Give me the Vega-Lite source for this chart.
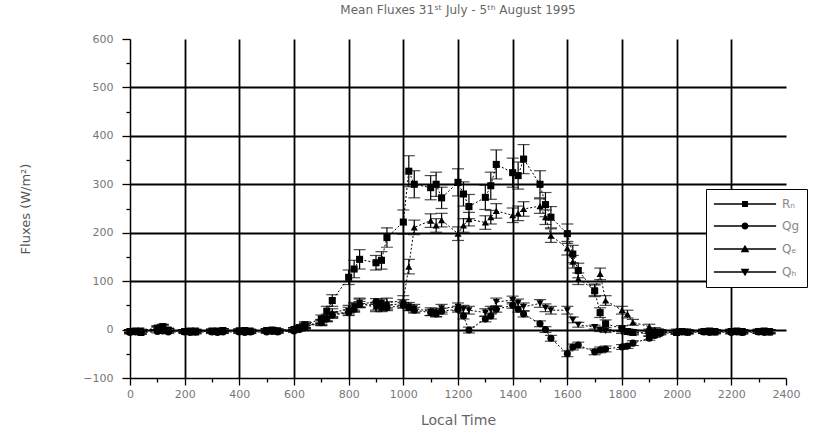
{
  "$schema": "https://vega.github.io/schema/vega-lite/v6.json",
  "autosize": "none",
  "padding": {"left": 130, "top": 39, "right": 27, "bottom": 58},
  "width": 656,
  "height": 339,
  "background": "white",
  "title": {
    "text": "Mean Fluxes 31ˢᵗ July - 5ᵗʰ August 1995",
    "font": "DejaVu Sans",
    "fontSize": 12,
    "fontWeight": "normal",
    "color": "#666",
    "anchor": "middle",
    "offset": 16
  },
  "config": {"view": {"stroke": null}},
  "data": {
    "values": [
      {"t":0,"s":"Rn","v":-4,"e":4},{"t":20,"s":"Rn","v":-3,"e":4},{"t":40,"s":"Rn","v":-6,"e":4},
      {"t":100,"s":"Rn","v":3,"e":5},{"t":120,"s":"Rn","v":6,"e":5},{"t":140,"s":"Rn","v":-2,"e":4},
      {"t":200,"s":"Rn","v":-4,"e":4},{"t":220,"s":"Rn","v":-3,"e":4},{"t":240,"s":"Rn","v":-5,"e":4},
      {"t":300,"s":"Rn","v":-3,"e":4},{"t":320,"s":"Rn","v":-4,"e":4},{"t":340,"s":"Rn","v":-2,"e":4},
      {"t":400,"s":"Rn","v":-3,"e":4},{"t":420,"s":"Rn","v":-2,"e":4},{"t":440,"s":"Rn","v":-4,"e":4},
      {"t":500,"s":"Rn","v":-2,"e":4},{"t":520,"s":"Rn","v":-1,"e":4},{"t":540,"s":"Rn","v":-3,"e":4},
      {"t":600,"s":"Rn","v":0,"e":4},{"t":620,"s":"Rn","v":4,"e":5},{"t":640,"s":"Rn","v":10,"e":6},
      {"t":700,"s":"Rn","v":22,"e":8},{"t":720,"s":"Rn","v":38,"e":10},{"t":740,"s":"Rn","v":60,"e":12},
      {"t":800,"s":"Rn","v":108,"e":15},{"t":820,"s":"Rn","v":125,"e":18},{"t":840,"s":"Rn","v":145,"e":20},
      {"t":900,"s":"Rn","v":138,"e":15},{"t":920,"s":"Rn","v":143,"e":18},{"t":940,"s":"Rn","v":190,"e":20},
      {"t":1000,"s":"Rn","v":222,"e":25},{"t":1020,"s":"Rn","v":327,"e":32},{"t":1040,"s":"Rn","v":300,"e":28},
      {"t":1100,"s":"Rn","v":293,"e":25},{"t":1120,"s":"Rn","v":300,"e":25},{"t":1140,"s":"Rn","v":272,"e":22},
      {"t":1200,"s":"Rn","v":304,"e":28},{"t":1220,"s":"Rn","v":280,"e":25},{"t":1240,"s":"Rn","v":254,"e":25},
      {"t":1300,"s":"Rn","v":273,"e":25},{"t":1320,"s":"Rn","v":297,"e":28},{"t":1340,"s":"Rn","v":341,"e":30},
      {"t":1400,"s":"Rn","v":324,"e":30},{"t":1420,"s":"Rn","v":318,"e":28},{"t":1440,"s":"Rn","v":352,"e":30},
      {"t":1500,"s":"Rn","v":300,"e":28},{"t":1520,"s":"Rn","v":258,"e":25},{"t":1540,"s":"Rn","v":232,"e":22},
      {"t":1600,"s":"Rn","v":198,"e":20},{"t":1620,"s":"Rn","v":156,"e":18},{"t":1640,"s":"Rn","v":122,"e":15},
      {"t":1700,"s":"Rn","v":80,"e":12},{"t":1720,"s":"Rn","v":35,"e":10},{"t":1740,"s":"Rn","v":12,"e":8},
      {"t":1800,"s":"Rn","v":2,"e":6},{"t":1820,"s":"Rn","v":-4,"e":5},{"t":1840,"s":"Rn","v":-6,"e":5},
      {"t":1900,"s":"Rn","v":-8,"e":5},{"t":1920,"s":"Rn","v":-6,"e":5},{"t":1940,"s":"Rn","v":-5,"e":4},
      {"t":2000,"s":"Rn","v":-6,"e":4},{"t":2020,"s":"Rn","v":-4,"e":4},{"t":2040,"s":"Rn","v":-5,"e":4},
      {"t":2100,"s":"Rn","v":-4,"e":4},{"t":2120,"s":"Rn","v":-3,"e":4},{"t":2140,"s":"Rn","v":-5,"e":4},
      {"t":2200,"s":"Rn","v":-4,"e":4},{"t":2220,"s":"Rn","v":-3,"e":4},{"t":2240,"s":"Rn","v":-5,"e":4},
      {"t":2300,"s":"Rn","v":-4,"e":4},{"t":2320,"s":"Rn","v":-3,"e":4},{"t":2340,"s":"Rn","v":-5,"e":4},

      {"t":0,"s":"Qg","v":-6,"e":3},{"t":20,"s":"Qg","v":-5,"e":3},{"t":40,"s":"Qg","v":-6,"e":3},
      {"t":100,"s":"Qg","v":-4,"e":3},{"t":120,"s":"Qg","v":-3,"e":3},{"t":140,"s":"Qg","v":-5,"e":3},
      {"t":200,"s":"Qg","v":-5,"e":3},{"t":220,"s":"Qg","v":-6,"e":3},{"t":240,"s":"Qg","v":-5,"e":3},
      {"t":300,"s":"Qg","v":-5,"e":3},{"t":320,"s":"Qg","v":-6,"e":3},{"t":340,"s":"Qg","v":-5,"e":3},
      {"t":400,"s":"Qg","v":-5,"e":3},{"t":420,"s":"Qg","v":-6,"e":3},{"t":440,"s":"Qg","v":-5,"e":3},
      {"t":500,"s":"Qg","v":-5,"e":3},{"t":520,"s":"Qg","v":-4,"e":3},{"t":540,"s":"Qg","v":-5,"e":3},
      {"t":600,"s":"Qg","v":-3,"e":3},{"t":620,"s":"Qg","v":0,"e":3},{"t":640,"s":"Qg","v":5,"e":4},
      {"t":700,"s":"Qg","v":14,"e":4},{"t":720,"s":"Qg","v":22,"e":5},{"t":740,"s":"Qg","v":30,"e":5},
      {"t":800,"s":"Qg","v":35,"e":6},{"t":820,"s":"Qg","v":42,"e":6},{"t":840,"s":"Qg","v":52,"e":6},
      {"t":900,"s":"Qg","v":58,"e":6},{"t":920,"s":"Qg","v":50,"e":6},{"t":940,"s":"Qg","v":45,"e":6},
      {"t":1000,"s":"Qg","v":50,"e":6},{"t":1020,"s":"Qg","v":45,"e":6},{"t":1040,"s":"Qg","v":40,"e":6},
      {"t":1100,"s":"Qg","v":35,"e":6},{"t":1120,"s":"Qg","v":32,"e":6},{"t":1140,"s":"Qg","v":38,"e":6},
      {"t":1200,"s":"Qg","v":42,"e":6},{"t":1220,"s":"Qg","v":28,"e":6},{"t":1240,"s":"Qg","v":-1,"e":6},
      {"t":1300,"s":"Qg","v":22,"e":6},{"t":1320,"s":"Qg","v":28,"e":6},{"t":1340,"s":"Qg","v":42,"e":6},
      {"t":1400,"s":"Qg","v":50,"e":6},{"t":1420,"s":"Qg","v":42,"e":6},{"t":1440,"s":"Qg","v":32,"e":6},
      {"t":1500,"s":"Qg","v":12,"e":6},{"t":1520,"s":"Qg","v":0,"e":6},{"t":1540,"s":"Qg","v":-18,"e":6},
      {"t":1600,"s":"Qg","v":-50,"e":6},{"t":1620,"s":"Qg","v":-36,"e":6},{"t":1640,"s":"Qg","v":-32,"e":6},
      {"t":1700,"s":"Qg","v":-46,"e":6},{"t":1720,"s":"Qg","v":-42,"e":6},{"t":1740,"s":"Qg","v":-40,"e":6},
      {"t":1800,"s":"Qg","v":-36,"e":5},{"t":1820,"s":"Qg","v":-34,"e":5},{"t":1840,"s":"Qg","v":-28,"e":5},
      {"t":1900,"s":"Qg","v":-18,"e":4},{"t":1920,"s":"Qg","v":-12,"e":4},{"t":1940,"s":"Qg","v":-8,"e":3},
      {"t":2000,"s":"Qg","v":-6,"e":3},{"t":2020,"s":"Qg","v":-5,"e":3},{"t":2040,"s":"Qg","v":-6,"e":3},
      {"t":2100,"s":"Qg","v":-5,"e":3},{"t":2120,"s":"Qg","v":-6,"e":3},{"t":2140,"s":"Qg","v":-5,"e":3},
      {"t":2200,"s":"Qg","v":-6,"e":3},{"t":2220,"s":"Qg","v":-5,"e":3},{"t":2240,"s":"Qg","v":-6,"e":3},
      {"t":2300,"s":"Qg","v":-5,"e":3},{"t":2320,"s":"Qg","v":-6,"e":3},{"t":2340,"s":"Qg","v":-5,"e":3},

      {"t":0,"s":"Qe","v":-3,"e":3},{"t":20,"s":"Qe","v":-2,"e":3},{"t":40,"s":"Qe","v":-4,"e":3},
      {"t":100,"s":"Qe","v":2,"e":3},{"t":120,"s":"Qe","v":5,"e":4},{"t":140,"s":"Qe","v":-1,"e":3},
      {"t":200,"s":"Qe","v":-3,"e":3},{"t":220,"s":"Qe","v":-2,"e":3},{"t":240,"s":"Qe","v":-3,"e":3},
      {"t":300,"s":"Qe","v":-2,"e":3},{"t":320,"s":"Qe","v":-3,"e":3},{"t":340,"s":"Qe","v":-1,"e":3},
      {"t":400,"s":"Qe","v":-2,"e":3},{"t":420,"s":"Qe","v":-1,"e":3},{"t":440,"s":"Qe","v":-3,"e":3},
      {"t":500,"s":"Qe","v":-1,"e":3},{"t":520,"s":"Qe","v":0,"e":3},{"t":540,"s":"Qe","v":-2,"e":3},
      {"t":600,"s":"Qe","v":1,"e":3},{"t":620,"s":"Qe","v":3,"e":4},{"t":640,"s":"Qe","v":8,"e":5},
      {"t":700,"s":"Qe","v":15,"e":6},{"t":720,"s":"Qe","v":25,"e":7},{"t":740,"s":"Qe","v":35,"e":8},
      {"t":800,"s":"Qe","v":42,"e":8},{"t":820,"s":"Qe","v":45,"e":8},{"t":840,"s":"Qe","v":55,"e":10},
      {"t":900,"s":"Qe","v":48,"e":8},{"t":920,"s":"Qe","v":45,"e":8},{"t":940,"s":"Qe","v":55,"e":10},
      {"t":1000,"s":"Qe","v":60,"e":10},{"t":1020,"s":"Qe","v":130,"e":15},{"t":1040,"s":"Qe","v":211,"e":15},
      {"t":1100,"s":"Qe","v":225,"e":14},{"t":1120,"s":"Qe","v":215,"e":14},{"t":1140,"s":"Qe","v":226,"e":14},
      {"t":1200,"s":"Qe","v":198,"e":14},{"t":1220,"s":"Qe","v":215,"e":14},{"t":1240,"s":"Qe","v":228,"e":14},
      {"t":1300,"s":"Qe","v":221,"e":14},{"t":1320,"s":"Qe","v":232,"e":14},{"t":1340,"s":"Qe","v":245,"e":15},
      {"t":1400,"s":"Qe","v":236,"e":15},{"t":1420,"s":"Qe","v":240,"e":15},{"t":1440,"s":"Qe","v":249,"e":15},
      {"t":1500,"s":"Qe","v":255,"e":15},{"t":1520,"s":"Qe","v":232,"e":15},{"t":1540,"s":"Qe","v":194,"e":14},
      {"t":1600,"s":"Qe","v":168,"e":14},{"t":1620,"s":"Qe","v":140,"e":13},{"t":1640,"s":"Qe","v":105,"e":12},
      {"t":1700,"s":"Qe","v":82,"e":12},{"t":1720,"s":"Qe","v":115,"e":12},{"t":1740,"s":"Qe","v":60,"e":10},
      {"t":1800,"s":"Qe","v":40,"e":8},{"t":1820,"s":"Qe","v":32,"e":8},{"t":1840,"s":"Qe","v":15,"e":6},
      {"t":1900,"s":"Qe","v":6,"e":5},{"t":1920,"s":"Qe","v":0,"e":4},{"t":1940,"s":"Qe","v":-3,"e":3},
      {"t":2000,"s":"Qe","v":-2,"e":3},{"t":2020,"s":"Qe","v":-4,"e":3},{"t":2040,"s":"Qe","v":-3,"e":3},
      {"t":2100,"s":"Qe","v":-2,"e":3},{"t":2120,"s":"Qe","v":-4,"e":3},{"t":2140,"s":"Qe","v":-3,"e":3},
      {"t":2200,"s":"Qe","v":-2,"e":3},{"t":2220,"s":"Qe","v":-3,"e":3},{"t":2240,"s":"Qe","v":-4,"e":3},
      {"t":2300,"s":"Qe","v":-2,"e":3},{"t":2320,"s":"Qe","v":-3,"e":3},{"t":2340,"s":"Qe","v":-4,"e":3},

      {"t":0,"s":"Qh","v":-3,"e":3},{"t":20,"s":"Qh","v":-4,"e":3},{"t":40,"s":"Qh","v":-2,"e":3},
      {"t":100,"s":"Qh","v":3,"e":3},{"t":120,"s":"Qh","v":6,"e":4},{"t":140,"s":"Qh","v":0,"e":3},
      {"t":200,"s":"Qh","v":-3,"e":3},{"t":220,"s":"Qh","v":-4,"e":3},{"t":240,"s":"Qh","v":-2,"e":3},
      {"t":300,"s":"Qh","v":-3,"e":3},{"t":320,"s":"Qh","v":-2,"e":3},{"t":340,"s":"Qh","v":-4,"e":3},
      {"t":400,"s":"Qh","v":-2,"e":3},{"t":420,"s":"Qh","v":-3,"e":3},{"t":440,"s":"Qh","v":-2,"e":3},
      {"t":500,"s":"Qh","v":-3,"e":3},{"t":520,"s":"Qh","v":-1,"e":3},{"t":540,"s":"Qh","v":-2,"e":3},
      {"t":600,"s":"Qh","v":0,"e":3},{"t":620,"s":"Qh","v":3,"e":4},{"t":640,"s":"Qh","v":8,"e":5},
      {"t":700,"s":"Qh","v":14,"e":6},{"t":720,"s":"Qh","v":22,"e":6},{"t":740,"s":"Qh","v":30,"e":7},
      {"t":800,"s":"Qh","v":38,"e":8},{"t":820,"s":"Qh","v":48,"e":8},{"t":840,"s":"Qh","v":55,"e":8},
      {"t":900,"s":"Qh","v":45,"e":8},{"t":920,"s":"Qh","v":55,"e":8},{"t":940,"s":"Qh","v":50,"e":8},
      {"t":1000,"s":"Qh","v":54,"e":8},{"t":1020,"s":"Qh","v":48,"e":8},{"t":1040,"s":"Qh","v":44,"e":8},
      {"t":1100,"s":"Qh","v":37,"e":8},{"t":1120,"s":"Qh","v":35,"e":8},{"t":1140,"s":"Qh","v":44,"e":8},
      {"t":1200,"s":"Qh","v":47,"e":8},{"t":1220,"s":"Qh","v":42,"e":8},{"t":1240,"s":"Qh","v":40,"e":8},
      {"t":1300,"s":"Qh","v":35,"e":8},{"t":1320,"s":"Qh","v":40,"e":8},{"t":1340,"s":"Qh","v":57,"e":8},
      {"t":1400,"s":"Qh","v":61,"e":8},{"t":1420,"s":"Qh","v":55,"e":8},{"t":1440,"s":"Qh","v":47,"e":8},
      {"t":1500,"s":"Qh","v":54,"e":8},{"t":1520,"s":"Qh","v":45,"e":8},{"t":1540,"s":"Qh","v":40,"e":8},
      {"t":1600,"s":"Qh","v":40,"e":8},{"t":1620,"s":"Qh","v":20,"e":6},{"t":1640,"s":"Qh","v":10,"e":5},
      {"t":1700,"s":"Qh","v":5,"e":4},{"t":1720,"s":"Qh","v":0,"e":4},{"t":1740,"s":"Qh","v":-3,"e":3},
      {"t":1800,"s":"Qh","v":-5,"e":3},{"t":1820,"s":"Qh","v":-4,"e":3},{"t":1840,"s":"Qh","v":-6,"e":3},
      {"t":1900,"s":"Qh","v":-5,"e":3},{"t":1920,"s":"Qh","v":-4,"e":3},{"t":1940,"s":"Qh","v":-6,"e":3},
      {"t":2000,"s":"Qh","v":-5,"e":3},{"t":2020,"s":"Qh","v":-4,"e":3},{"t":2040,"s":"Qh","v":-5,"e":3},
      {"t":2100,"s":"Qh","v":-4,"e":3},{"t":2120,"s":"Qh","v":-5,"e":3},{"t":2140,"s":"Qh","v":-3,"e":3},
      {"t":2200,"s":"Qh","v":-4,"e":3},{"t":2220,"s":"Qh","v":-5,"e":3},{"t":2240,"s":"Qh","v":-3,"e":3},
      {"t":2300,"s":"Qh","v":-4,"e":3},{"t":2320,"s":"Qh","v":-5,"e":3},{"t":2340,"s":"Qh","v":-3,"e":3}
    ]
  },
  "encoding": {
    "x": {
      "field": "t", "type": "quantitative",
      "scale": {"domain": [0, 2400], "nice": false, "zero": false},
      "axis": {
        "title": "Local Time",
        "values": [0,100,200,300,400,500,600,700,800,900,1000,1100,1200,1300,1400,1500,1600,1700,1800,1900,2000,2100,2200,2300,2400],
        "format": "d",
        "labelExpr": "datum.value % 200 === 0 ? datum.label : ''",
        "grid": true,
        "gridColor": "black",
        "gridWidth": 1.8,
        "gridOpacity": {"condition": {"test": "datum.value % 200 === 0 && datum.value > 0 && datum.value < 2400", "value": 1}, "value": 0},
        "tickSize": {"condition": {"test": "datum.value % 200 === 0", "value": 7}, "value": 4},
        "tickColor": "black",
        "tickWidth": 1.3,
        "domainColor": "black",
        "domainWidth": 1.5,
        "labelFont": "DejaVu Sans",
        "labelFontSize": 11,
        "labelColor": "#777",
        "labelPadding": 3,
        "labelFlush": false,
        "labelOverlap": false,
        "titleFont": "DejaVu Sans",
        "titleFontSize": 14,
        "titleFontWeight": "normal",
        "titleColor": "#666",
        "titlePadding": 14
      }
    },
    "y": {
      "field": "v", "type": "quantitative",
      "scale": {"domain": [-100, 600], "nice": false, "zero": false},
      "axis": {
        "title": "Fluxes (W/m²)",
        "values": [-100,-50,0,50,100,150,200,250,300,350,400,450,500,550,600],
        "format": "d",
        "labelExpr": "datum.value % 100 === 0 ? datum.label : ''",
        "grid": true,
        "gridColor": "black",
        "gridWidth": 1.8,
        "gridOpacity": {"condition": {"test": "datum.value % 100 === 0 && datum.value > -100 && datum.value < 600", "value": 1}, "value": 0},
        "tickSize": {"condition": {"test": "datum.value % 100 === 0", "value": 8}, "value": 4},
        "tickColor": "black",
        "tickWidth": 1.3,
        "domainColor": "black",
        "domainWidth": 1.5,
        "labelFont": "DejaVu Sans",
        "labelFontSize": 11,
        "labelColor": "#777",
        "labelPadding": 9,
        "labelFlush": false,
        "labelOverlap": false,
        "titleFont": "DejaVu Sans",
        "titleFontSize": 13,
        "titleFontWeight": "normal",
        "titleColor": "#555",
        "titlePadding": 50
      }
    }
  },
  "resolve": {"scale": {"shape": "independent"}, "legend": {"shape": "independent"}},
  "layer": [
    {
      "mark": {"type": "line", "strokeDash": [2, 2], "strokeWidth": 1, "color": "black"},
      "encoding": {"detail": {"field": "s"}}
    },
    {
      "mark": {"type": "errorbar", "ticks": {"size": 12, "thickness": 1.2}, "color": "black", "thickness": 1.2},
      "encoding": {"yError": {"field": "e"}, "detail": {"field": "s"}}
    },
    {
      "mark": {"type": "point", "filled": true, "opacity": 1, "size": 50, "color": "black"},
      "encoding": {
        "shape": {
          "field": "s", "type": "nominal",
          "scale": {"domain": ["Rn", "Qg", "Qe", "Qh"], "range": ["square", "circle", "triangle-up", "triangle-down"]},
          "legend": null
        }
      }
    },
    {
      "transform": [{"filter": "false"}],
      "mark": {"type": "point", "filled": true, "opacity": 1, "color": "black"},
      "encoding": {
        "shape": {
          "field": "s", "type": "nominal",
          "scale": {
            "domain": ["Rn", "Qg", "Qe", "Qh"],
            "range": [
              "M-4.4,-0.1H4.4V0.1H-4.4ZM-0.42,-0.42H0.42V0.42H-0.42Z",
              "M-4.4,-0.1H4.4V0.1H-4.4ZM-0.5,0A0.5,0.5,0,1,1,0.5,0A0.5,0.5,0,1,1,-0.5,0Z",
              "M-4.4,-0.1H4.4V0.1H-4.4ZM-0.62,0.45L0,-0.6L0.62,0.45Z",
              "M-4.4,-0.1H4.4V0.1H-4.4ZM0.62,-0.45L0,0.6L-0.62,-0.45Z"
            ]
          },
          "legend": {
            "title": null,
            "orient": "none",
            "legendX": 576,
            "legendY": 150,
            "padding": 7,
            "strokeColor": "black",
            "fillColor": "white",
            "symbolSize": 200,
            "symbolFillColor": "black",
            "symbolOpacity": 1,
            "symbolOffset": 24,
            "labelOffset": 29,
            "rowPadding": 8,
            "labelFont": "DejaVu Sans",
            "labelFontSize": 12,
            "labelColor": "#888",
            "labelExpr": "datum.value == 'Rn' ? 'Rₙ' : datum.value == 'Qg' ? 'Qg' : datum.value == 'Qe' ? 'Qₑ' : 'Qₕ'"
          }
        }
      }
    }
  ]
}
